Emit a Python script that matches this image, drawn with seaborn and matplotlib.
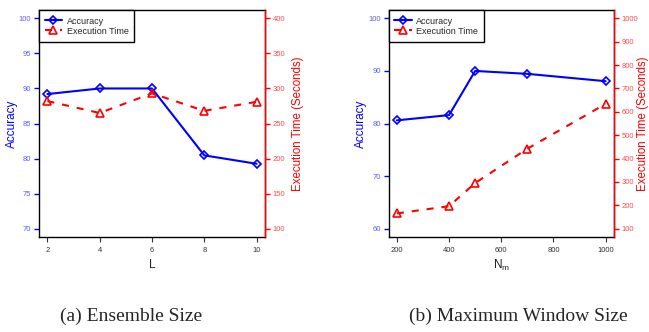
import matplotlib
matplotlib.use("Agg")
import matplotlib.pyplot as plt
import seaborn as sns
import pandas as pd
from matplotlib.lines import Line2D

sns.set_style("white")
plt.rcParams['font.family'] = ['Liberation Sans', 'DejaVu Sans']
plt.rcParams['mathtext.fontset'] = 'custom'
plt.rcParams['mathtext.rm'] = 'Liberation Sans'
plt.rcParams['mathtext.it'] = 'Liberation Sans'

# Panel (a): Ensemble Size
L_vals = [2, 4, 6, 8, 10]
acc_a = [89.2, 90.0, 90.0, 80.45, 79.25]
time_a = [282, 265, 293, 268, 281]

# Panel (b): Maximum Window Size
Nm_vals = [200, 400, 500, 700, 1000]
acc_b = [80.6, 81.6, 90.0, 89.45, 88.05]
time_b = [165, 196, 295, 442, 634]

xticks_a = [2, 4, 6, 8, 10]
xticks_b = [200, 400, 600, 800, 1000]
yticks_acc_a = [70, 75, 80, 85, 90, 95, 100]
yticks_time_a = [100, 150, 200, 250, 300, 350, 400]
yticks_acc_b = [60, 70, 80, 90, 100]
yticks_time_b = [100, 200, 300, 400, 500, 600, 700, 800, 900, 1000]

captions = ["(a) Ensemble Size", "(b) Maximum Window Size"]
xlabels = ["L", r"N$_\mathregular{m}$"]

W, H = 649, 332
fig = plt.figure(figsize=(W / 100, H / 100), dpi=100)

BLUE = "#0000ff"
RED = "#ff0000"
LBLUE = "#5c5cff"
LRED = "#ff4d4d"
DASH = (0, (3.4, 3.8))


def r_range(lo, hi):
    d = (hi - lo) * 0.04
    return lo - d, hi + d


def panel(rect, x, acc, tm, xt, yta, ytt, xlabel, caption, cx,
          ylab_l_x, ylab_r_x):
    ax = fig.add_axes(rect)
    df = pd.DataFrame({"x": x, "acc": acc, "time": tm})
    sns.lineplot(data=df, x="x", y="acc", ax=ax, color=BLUE, lw=1.5,
                 marker="D", markersize=4.5, markerfacecolor="none",
                 markeredgecolor=BLUE, markeredgewidth=1.2)
    ax.set_xlim(*r_range(xt[0], xt[-1]))
    ax.set_ylim(*r_range(yta[0], yta[-1]))
    ax.set_xticks(xt)
    ax.set_xticklabels([str(v) for v in xt])
    ax.set_yticks(yta)
    ax.set_yticklabels([str(v) for v in yta])
    ax.tick_params(axis="y", colors=BLUE, labelcolor=LBLUE, direction="out",
                   length=3.5, width=1, labelsize=5.5, pad=2, left=True)
    ax.tick_params(axis="x", colors="#333333", direction="out", length=3.5,
                   width=0.8, labelsize=5.5, pad=4, bottom=True)
    ax.set_xlabel(xlabel, fontsize=8.5, color="#222222", va="center")
    ax.xaxis.set_label_coords(0.5, (237 - 265) / 227)
    ax.set_ylabel("Accuracy", fontsize=8.5, color=BLUE, va="center")
    ax.yaxis.set_label_coords(ylab_l_x, 0.5)
    for s in ax.spines.values():
        s.set_color("black")
        s.set_linewidth(1.0)

    ax2 = ax.twinx()
    sns.lineplot(data=df, x="x", y="time", ax=ax2, color=RED, lw=1.5,
                 linestyle=DASH, marker="^", markersize=5.5,
                 markerfacecolor="none", markeredgecolor=RED,
                 markeredgewidth=1.2)
    ax2.set_ylim(*r_range(ytt[0], ytt[-1]))
    ax2.set_yticks(ytt)
    ax2.set_yticklabels([str(v) for v in ytt])
    ax2.tick_params(axis="y", colors=RED, labelcolor=LRED, direction="out",
                    length=3.5, width=1, labelsize=5.5, pad=2, right=True)
    ax2.set_ylabel("Execution Time (Seconds)", fontsize=8.3, color=RED,
                   va="center")
    ax2.yaxis.set_label_coords(ylab_r_x, 0.5)
    for k, s in ax2.spines.items():
        s.set_visible(k == "right")
    ax2.spines["right"].set_color(RED)
    ax2.spines["right"].set_linewidth(1.0)
    ax2.set_xlabel("")

    handles = [
        Line2D([], [], color=BLUE, lw=1.5, marker="D", markersize=4.5,
               markerfacecolor="none", markeredgecolor=BLUE,
               markeredgewidth=1.2),
        Line2D([], [], color=RED, lw=1.5, linestyle=DASH, marker="^",
               markersize=5.5, markerfacecolor="none", markeredgecolor=RED,
               markeredgewidth=1.2),
    ]
    leg = ax2.legend(handles, ["Accuracy", "Execution Time"], loc="upper left",
                     borderaxespad=0, fontsize=6.5, frameon=True,
                     fancybox=False, framealpha=1, edgecolor="black",
                     handlelength=1.9, handletextpad=0.5, borderpad=0.65,
                     handleheight=1.2, labelspacing=0.05)
    leg.get_frame().set_linewidth(1.0)

    fig.text(cx / W, 1 - 316 / H, caption, ha="center", va="center",
             fontsize=14, family="Liberation Serif")


panel([39 / W, 95 / H, 226 / W, 227 / H], L_vals, acc_a, time_a, xticks_a,
      yticks_acc_a, yticks_time_a, xlabels[0], captions[0], 131,
      (12 - 39) / 226, (298 - 39) / 226)
panel([388.5 / W, 95 / H, 225.5 / W, 227 / H], Nm_vals, acc_b, time_b,
      xticks_b, yticks_acc_b, yticks_time_b, xlabels[1], captions[1], 518,
      (361 - 388.5) / 225.5, (643 - 388.5) / 225.5)

fig.savefig("out.png", dpi=100)
